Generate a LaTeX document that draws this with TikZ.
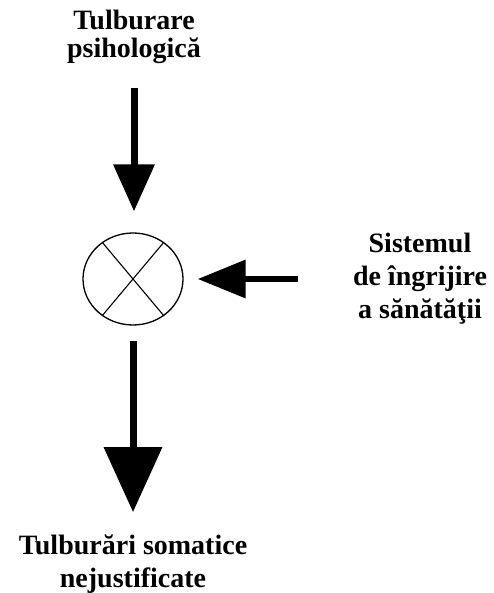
\documentclass[tikz,border=0pt]{standalone}
\usepackage{fontspec}
\setmainfont{Liberation Serif}
\usetikzlibrary{arrows.meta,shapes.geometric}
\begin{document}
\begin{tikzpicture}[x=1pt,y=-1pt,
  lbl/.style={font=\fontsize{28}{33}\selectfont\bfseries, align=center, inner sep=0pt, anchor=base},
  bigarrow/.style={line width=7pt, draw=black}]
\useasboundingbox (0,0) rectangle (494,593);
\node[lbl, font=\fontsize{28}{28}\selectfont\bfseries] (top) at (134,58) {Tulburare\\psihologică};
\node[lbl] (right) at (420,318) {Sistemul\\de îngrijire\\a sănătăţii};
\node[lbl] (bottom) at (133,587) {Tulburări somatice\\nejustificate};
\node[ellipse, draw, line width=1.3pt, minimum width=100pt, minimum height=92pt, inner sep=0pt] (sum) at (133,279) {};
\draw[line width=1.1pt] (sum.130) -- (sum.310);
\draw[line width=1.1pt] (sum.50) -- (sum.230);
\draw[bigarrow, -{Triangle[length=47pt,width=40pt]}, shorten <=24pt, shorten >=21pt] (top) -- (top |- sum.north);
\draw[bigarrow, line width=6.5pt, -{Triangle[length=48pt,width=37pt]}, shorten <=55pt, shorten >=14pt] (right.west |- sum) -- (sum.east);
\draw[bigarrow, -{Triangle[length=65pt,width=57pt]}, shorten <=15pt, shorten >=22pt] (sum.south) -- (sum.south |- bottom.north);
\end{tikzpicture}
\end{document}
